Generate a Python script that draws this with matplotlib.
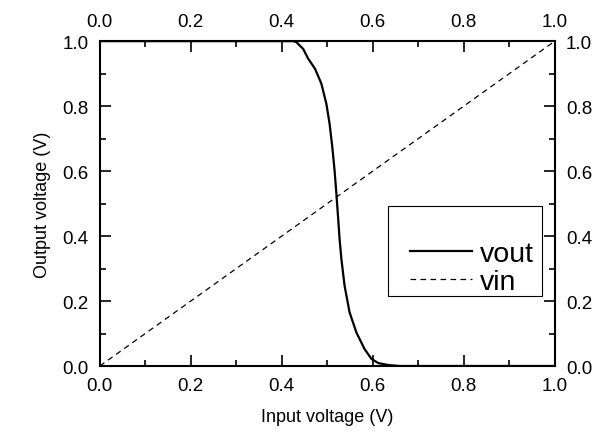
import matplotlib
matplotlib.use("Agg")
import matplotlib.pyplot as plt
from matplotlib.patches import Rectangle
from matplotlib.ticker import MultipleLocator

plt.rcParams['font.family'] = ['Liberation Sans', 'DejaVu Sans']

# data
vin_x = [0.0, 1.0]
vin_y = [0.0, 1.0]
vout_x = [0.0, 0.40, 0.425, 0.432, 0.447, 0.458, 0.473, 0.487, 0.498, 0.505,
          0.511, 0.516, 0.520, 0.524, 0.527, 0.531, 0.538, 0.549, 0.564, 0.582,
          0.597, 0.612, 0.634, 0.66, 1.0]
vout_y = [1.0, 1.0, 1.0, 0.997, 0.976, 0.946, 0.915, 0.869, 0.807, 0.746,
          0.674, 0.602, 0.530, 0.452, 0.391, 0.329, 0.247, 0.165, 0.103, 0.052,
          0.022, 0.009, 0.003, 0.0, 0.0]

fig = plt.figure(figsize=(5.94, 4.39), dpi=100)
ax = fig.add_axes([0.168, 0.164, 0.766, 0.740])

ax.plot(vout_x, vout_y, color='black', lw=1.6, label='vout')
ax.plot(vin_x, vin_y, color='black', lw=0.9, linestyle=(0, (4.5, 3.5)), label='vin')

ax.set_xlim(0, 1)
ax.set_ylim(0, 1)
ax.xaxis.set_major_locator(MultipleLocator(0.2))
ax.xaxis.set_minor_locator(MultipleLocator(0.1))
ax.yaxis.set_major_locator(MultipleLocator(0.2))
ax.yaxis.set_minor_locator(MultipleLocator(0.1))
ax.xaxis.set_major_formatter(plt.FormatStrFormatter('%.1f'))
ax.yaxis.set_major_formatter(plt.FormatStrFormatter('%.1f'))

ax.tick_params(which='both', direction='in', top=True, right=True,
               labeltop=True, labelright=True, labelsize=13.5, width=1.2, pad=8)
ax.tick_params(which='major', length=8)
ax.tick_params(which='minor', length=4.5)
for s in ax.spines.values():
    s.set_linewidth(1.5)

ax.set_xlabel('Input voltage (V)', fontsize=13, labelpad=10)
ax.set_ylabel('Output voltage (V)', fontsize=13, labelpad=8)

# legend box
ax.add_patch(Rectangle((0.633, 0.215), 0.338, 0.277, transform=ax.transAxes,
                       fill=True, facecolor='white', edgecolor='black', lw=0.8, zorder=3))
leg = ax.legend(loc='center left', bbox_to_anchor=(0.65, 0.302), frameon=False,
                fontsize=20.5, handlelength=2.2, handletextpad=0.25, labelspacing=0.06,
                borderpad=0)
leg.set_zorder(4)

fig.savefig('out.png', dpi=100)
